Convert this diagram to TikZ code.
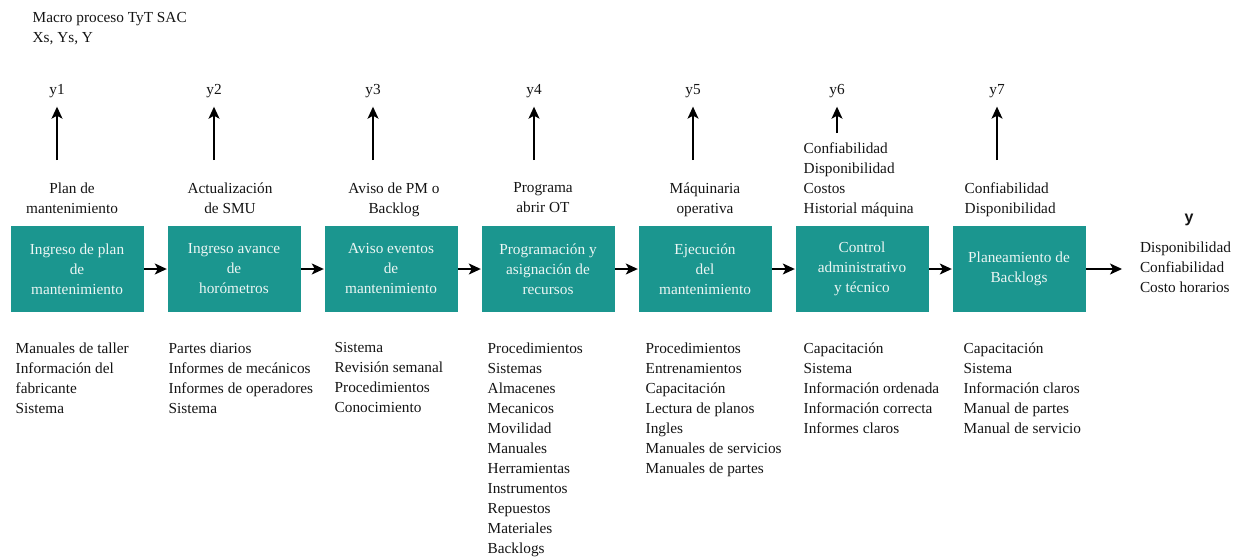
\documentclass[tikz,border=0pt]{standalone}
\usepackage{fontspec}
\setmainfont{Liberation Serif}
\newfontfamily\outsans{Liberation Sans}
\usetikzlibrary{positioning,arrows.meta}
\definecolor{procteal}{RGB}{27,150,143}
\definecolor{proctext}{RGB}{236,246,244}
\definecolor{ink}{RGB}{20,20,20}

\begin{document}
\begin{tikzpicture}[
x=1pt,y=1pt,
>={Stealth[length=12pt,width=11pt,inset=3pt]},
line width=1.4pt,
font=\fontsize{15.3}{20}\selectfont,
text=ink,
proc/.style={fill=procteal,text=proctext,minimum width=133pt,minimum height=86pt,inner sep=0pt,align=center},
lbl/.style={inner sep=0pt,align=center,anchor=north},
lst/.style={inner sep=0pt,align=left,anchor=north west},
ylbl/.style={inner sep=0pt,outer ysep=9pt},
node distance=157pt
]
\useasboundingbox (0,0) rectangle (1236,-557);

\node[lst] (title) at (32,-12) {Macro proceso TyT SAC\\Xs, Ys, Y};

%\node (proc) at (0,0) {proceso};
\node[proc] (b1) at (77,-269) {Ingreso de plan\\de\\mantenimiento};
	\node[proc] (b2) [right of = b1] {Ingreso avance\\de\\horómetros};
	\node[proc] (b3) [right of = b2] {Aviso eventos\\de\\mantenimiento};
	\node[proc] (b4) [right of = b3] {Programación y\\asignación de\\recursos};
	\node[proc] (b5) [right of = b4] {Ejecución\\del\\mantenimiento};
	\node[proc] (b6) [right of = b5] {Control\\administrativo\\y técnico};
	\node[proc] (b7) [right of = b6] {Planeamiento de\\Backlogs};

\node[lbl] (t1) at (72,-182) {Plan de\\mantenimiento};
	\node[lbl] (t2) at (230,-182) {Actualización\\de SMU};
	\node[lbl] (t3) at (394,-182) {Aviso de PM o\\Backlog};
	\node[lbl] (t4) at (543,-182) {Programa\\abrir OT};
	\node[lbl] (t5) at (705,-182) {Máquinaria\\operativa};
	\node[lst] (t6) at (803,-142) {Confiabilidad\\Disponibilidad\\Costos\\Historial máquina};
	\node[lst] (t7) at (964,-182) {Confiabilidad\\Disponibilidad};

\node[ylbl] (y1) at (57,-91) {y1};
	\node[ylbl] (y2) at (214,-91) {y2};
	\node[ylbl] (y3) at (373,-91) {y3};
	\node[ylbl] (y4) at (534,-91) {y4};
	\node[ylbl] (y5) at (693,-91) {y5};
	\node[ylbl] (y6) at (837,-91) {y6};
	\node[ylbl] (y7) at (997,-91) {y7};

\coordinate (a1) at (57,-160);
\coordinate (a2) at (214,-160);
\coordinate (a3) at (373,-160);
\coordinate (a4) at (534,-160);
\coordinate (a5) at (693,-160);
\coordinate (a6) at (837,-133);
\coordinate (a7) at (997,-160);

\node[lst] (x1) at (15,-342) {Manuales de taller\\Información del\\fabricante\\Sistema};
	\node[lst] (x2) at (168,-342) {Partes diarios\\Informes de mecánicos\\Informes de operadores\\Sistema};
	\node[lst] (x3) at (334,-342) {Sistema\\Revisión semanal\\Procedimientos\\Conocimiento};
	\node[lst] (x4) at (487,-342) {Procedimientos\\Sistemas\\Almacenes\\Mecanicos\\Movilidad\\Manuales\\Herramientas\\Instrumentos\\Repuestos\\Materiales\\Backlogs};
	\node[lst] (x5) at (645,-342) {Procedimientos\\Entrenamientos\\Capacitación\\Lectura de planos\\Ingles\\Manuales de servicios\\Manuales de partes};
	\node[lst] (x6) at (803,-342) {Capacitación\\Sistema\\Información ordenada\\Información correcta\\Informes claros};
	\node[lst] (x7) at (963,-342) {Capacitación\\Sistema\\Información claros\\Manual de partes\\Manual de servicio};

\node[font=\outsans\bfseries\fontsize{16}{16}\selectfont,inner sep=0pt] (yout) at (1189,-220) {y};
\node[lst,outer xsep=18pt,outer ysep=0pt] (out) at (1122,-242) {Disponibilidad\\Confiabilidad\\Costo horarios};

\draw[->] (b1) -- (b2);
\draw[->] (b2) -- (b3);
\draw[->] (b3) -- (b4);
\draw[->] (b4) -- (b5);
\draw[->] (b5) -- (b6);
\draw[->] (b6) -- (b7);
\draw[->] (b7.east) -- (out.west |- b7);

\draw[->] (a1) -- (y1);
\draw[->] (a2) -- (y2);
\draw[->] (a3) -- (y3);
\draw[->] (a4) -- (y4);
\draw[->] (a5) -- (y5);
\draw[->] (a6) -- (y6);
\draw[->] (a7) -- (y7);

\end{tikzpicture}
\end{document}
